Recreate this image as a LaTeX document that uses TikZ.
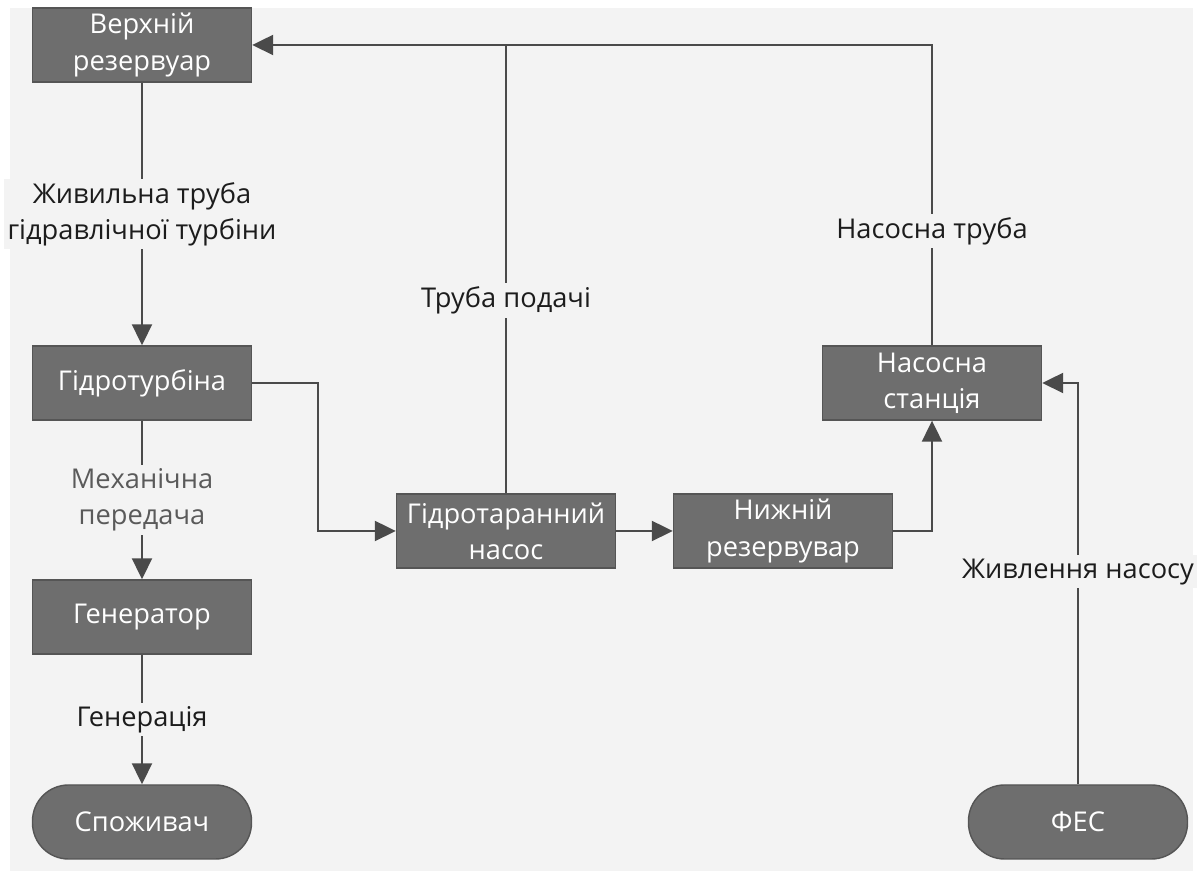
\documentclass[tikz,border=0pt]{standalone}
\usepackage{fontspec}
\setmainfont{Open Sans}
\usetikzlibrary{arrows.meta}
\definecolor{bg}{HTML}{F3F3F3}
\definecolor{boxgray}{HTML}{6E6E6E}
\definecolor{boxline}{HTML}{555555}
\definecolor{linegray}{HTML}{4A4A4A}
\definecolor{txtdark}{HTML}{1C1C1C}
\definecolor{txtgray}{HTML}{5A5A5A}
\tikzset{
	block/.style={draw=boxline, line width=0.8pt, fill=boxgray, text=white, minimum width=4.38cm, minimum height=1.48cm, align=center, inner sep=2pt},
	term/.style={block, rounded corners=0.72cm},
	pipe/.style={draw=linegray, line width=1.2pt},
	arr/.style={pipe, -{Triangle[length=0.42cm,width=0.4cm]}},
	lbl/.style={fill=bg, text=txtdark, align=center, inner sep=2pt},
}
\begin{document}
\begin{tikzpicture}[font=\fontsize{15.5}{20.5}\selectfont]
			\fill[white] (0,0) rectangle (24.04,17.42);
			\fill[bg] (0.2,0) rectangle (23.86,17.26);
			\useasboundingbox (0,0) rectangle (24.04,17.42);
			%
			\node[block] (verh)  at (2.84, 16.52)	{Верхній\\резервуар};
			\node[block] (turb)  at (2.84,  9.76)	{Гідротурбіна};
			\node[block] (gen)   at (2.84,  5.08)	{Генератор};
			\node[term]  (spoz)  at (2.84,  0.98)	{Споживач};
			\node[block] (taran) at (10.12, 6.80)	{Гідротаранний\\насос};
			\node[block] (nyzh)  at (15.66, 6.80)	{Нижній\\резервувар};
			\node[block] (nasst) at (18.64, 9.76)	{Насосна\\станція};
			\node[term]  (fes)   at (21.56, 0.98)	{ФЕС};
			%
			\def\vertical {verh/turb/0.5/txtdark/{Живильна труба\\гідравлічної турбіни}, turb/gen/0.5/txtgray/{Механічна\\передача}, gen/spoz/0.5/txtdark/{Генерація}}  % list elements
			\foreach \u/\v/\p/\c/\txt in \vertical
			{	\draw[arr] (\u) -- (\v) node [lbl, pos=\p, text=\c] {\txt};
			}
			%
			\draw[arr] (turb.east) -- ++(1.32,0) |- (taran.west);
			\draw[arr] (taran) -- (nyzh);
			\draw[arr] (nyzh.east) -| (nasst.south);
			\draw[arr] (nasst.north) |- (verh.east) node [lbl, pos=0.19] {Насосна труба};
			\draw[pipe] (taran.north) -- (taran.north |- verh.east) node [lbl, pos=0.43] {Труба подачі};
			\draw[arr] (fes.north) |- (nasst.east) node [lbl, pos=0.265] {Живлення насосу};
			%
		\end{tikzpicture}
\end{document}
